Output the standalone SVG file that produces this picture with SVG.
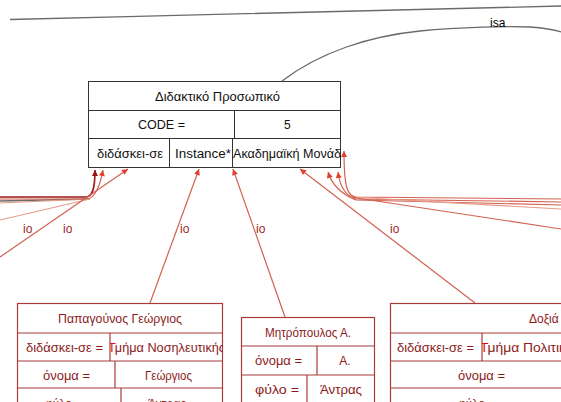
<svg xmlns="http://www.w3.org/2000/svg" width="561" height="402" viewBox="0 0 561 402">
<style>
.t{font-family:"Liberation Sans",Arial,sans-serif;font-size:12px;fill:#111}
.rt{font-family:"Liberation Sans",Arial,sans-serif;font-size:12px;fill:#8b1a1a}
.mb{fill:#fff;stroke:#333;stroke-width:1}
.ml{stroke:#333;stroke-width:1}
.rb{fill:#fff;stroke:#a83a3a;stroke-width:1.2}
.rl{stroke:#a83a3a;stroke-width:1.2}
.e{fill:none;stroke:#d2614f;stroke-width:1.2}
.ed{fill:none;stroke:#a01818;stroke-width:1.6}
.eg{fill:none;stroke:#6b6b6b;stroke-width:1.3}
.el{fill:none;stroke:#e69a88;stroke-width:1.1}
.io{font-family:"Liberation Sans",Arial,sans-serif;font-size:12px;fill:#a02828}
.isa{font-family:"Liberation Sans",Arial,sans-serif;font-size:12px;fill:#000}
</style>
<defs>
<marker id="ar" viewBox="0 0 10 10" refX="10" refY="5" markerWidth="7" markerHeight="6" orient="auto" markerUnits="userSpaceOnUse"><path d="M0,0 L10,5 L0,10 z" fill="#e0402a"/></marker>
<marker id="ard" viewBox="0 0 10 10" refX="10" refY="5" markerWidth="7" markerHeight="6" orient="auto" markerUnits="userSpaceOnUse"><path d="M0,0 L10,5 L0,10 z" fill="#a01010"/></marker>
<clipPath id="c1"><rect x="233" y="138" width="108" height="30"/></clipPath>
<clipPath id="c2"><rect x="110" y="333" width="113" height="28"/></clipPath>
<clipPath id="c3"><rect x="482" y="333" width="79" height="28"/></clipPath>
</defs>

<g id="connectors">
  <path class="eg" d="M10,19.5 C200,15 400,9 561,6"/>
  <path class="eg" d="M282,81 C320,52 370,36 420,31 C460,27 510,26 530,27 C545,28 555,30 561,32"/>
  <text class="isa" x="490" y="27">isa</text>

  <path class="eg" d="M0,201 L90,199"/>
  <path class="el" d="M0,203 L90,199"/>
  <path class="ed" d="M0,197 L86,197 C92,197 95,190 95,170" marker-end="url(#ard)"/>
  <path class="e" d="M0,199 L88,199 C95,197 100,186 103,170" marker-end="url(#ar)"/>
  <path class="el" d="M0,220 L90,199"/>
  <path class="e" d="M0,257 L128,169" marker-end="url(#ar)"/>

  <path class="e" d="M150,303 L199,169" marker-end="url(#ar)"/>
  <path class="e" d="M285,317 L233,169" marker-end="url(#ar)"/>
  <path class="e" d="M475,303 L300,169" marker-end="url(#ar)"/>

  <path class="e" d="M561,199 L356,197 C348,196 344,190 344,151" marker-end="url(#ar)"/>
  <path class="e" d="M561,202 L356,199 C346,196 340,188 338,172" marker-end="url(#ar)"/>
  <path class="e" d="M561,205 L356,200 C341,194 332,185 328,172" marker-end="url(#ar)"/>
  <path class="el" d="M561,209 L350,197"/>
  <path class="e" d="M561,229 L350,197"/>

  <text class="io" x="23" y="233">io</text>
  <text class="io" x="63" y="233">io</text>
  <text class="io" x="180" y="233">io</text>
  <text class="io" x="256" y="233">io</text>
  <text class="io" x="390" y="233">io</text>
</g>

<g id="n-didaktiko">
  <rect class="mb" x="88.5" y="81.5" width="252" height="86"/>
  <line class="ml" x1="88" y1="110.5" x2="341" y2="110.5"/>
  <line class="ml" x1="88" y1="138.5" x2="341" y2="138.5"/>
  <line class="ml" x1="234.5" y1="110.5" x2="234.5" y2="138.5"/>
  <line class="ml" x1="169.5" y1="138.5" x2="169.5" y2="168"/>
  <line class="ml" x1="232.5" y1="138.5" x2="232.5" y2="168"/>
  <text class="t" x="155" y="101" textLength="125" lengthAdjust="spacingAndGlyphs">Διδακτικό Προσωπικό</text>
  <text class="t" x="138" y="129" textLength="47" lengthAdjust="spacingAndGlyphs">CODE =</text>
  <text class="t" x="284" y="129">5</text>
  <text class="t" x="97" y="158" textLength="66" lengthAdjust="spacingAndGlyphs">διδάσκει-σε</text>
  <text class="t" x="175" y="158" textLength="56" lengthAdjust="spacingAndGlyphs">Instance*</text>
  <text class="t" x="233" y="158" clip-path="url(#c1)" textLength="108" lengthAdjust="spacingAndGlyphs">Ακαδημαϊκή Μονάδ</text>
</g>

<g id="n-papagounos">
  <rect class="rb" x="17.5" y="303.5" width="205" height="110"/>
  <line class="rl" x1="17" y1="333" x2="223" y2="333"/>
  <line class="rl" x1="17" y1="361" x2="223" y2="361"/>
  <line class="rl" x1="17" y1="388" x2="223" y2="388"/>
  <line class="rl" x1="110" y1="333" x2="110" y2="361"/>
  <line class="rl" x1="115" y1="361" x2="115" y2="388"/>
  <line class="rl" x1="121" y1="388" x2="121" y2="402"/>
  <text class="rt" x="120" y="323" text-anchor="middle" textLength="124" lengthAdjust="spacingAndGlyphs">Παπαγούνος Γεώργιος</text>
  <text class="rt" x="26" y="352" textLength="77" lengthAdjust="spacingAndGlyphs">διδάσκει-σε =</text>
  <text class="rt" x="108" y="352" clip-path="url(#c2)" textLength="117" lengthAdjust="spacingAndGlyphs"><tspan fill="#e01010">Τ</tspan>μήμα Νοσηλευτικής</text>
  <text class="rt" x="43" y="380" textLength="47" lengthAdjust="spacingAndGlyphs">όνομα =</text>
  <text class="rt" x="145" y="380" textLength="47" lengthAdjust="spacingAndGlyphs">Γεώργιος</text>
  <text class="rt" x="45" y="408">φύλο =</text>
  <text class="rt" x="148" y="408">Άντρας</text>
</g>

<g id="n-mitropoulos">
  <rect class="rb" x="241.5" y="317.5" width="133" height="100"/>
  <line class="rl" x1="241" y1="346" x2="375" y2="346"/>
  <line class="rl" x1="241" y1="375" x2="375" y2="375"/>
  <line class="rl" x1="317" y1="346" x2="317" y2="375"/>
  <line class="rl" x1="307" y1="375" x2="307" y2="402"/>
  <text class="rt" x="308" y="337" text-anchor="middle" textLength="86" lengthAdjust="spacingAndGlyphs">Μητρόπουλος Α.</text>
  <text class="rt" x="255" y="365" textLength="47" lengthAdjust="spacingAndGlyphs">όνομα =</text>
  <text class="rt" x="345" y="365" text-anchor="middle">Α.</text>
  <text class="rt" x="255" y="394" textLength="44" lengthAdjust="spacingAndGlyphs">φύλο =</text>
  <text class="rt" x="320" y="394" textLength="42" lengthAdjust="spacingAndGlyphs">Άντρας</text>
</g>

<g id="n-doxiadis">
  <rect class="rb" x="390.5" y="303.5" width="190" height="110"/>
  <line class="rl" x1="390" y1="333" x2="561" y2="333"/>
  <line class="rl" x1="390" y1="361" x2="561" y2="361"/>
  <line class="rl" x1="390" y1="388" x2="561" y2="388"/>
  <line class="rl" x1="482" y1="333" x2="482" y2="361"/>
  <text class="rt" x="529" y="323">Δοξιά</text>
  <text class="rt" x="397" y="352" textLength="77" lengthAdjust="spacingAndGlyphs">διδάσκει-σε =</text>
  <text class="rt" x="480" y="352" clip-path="url(#c3)" textLength="86" lengthAdjust="spacingAndGlyphs"><tspan fill="#e01010">Τ</tspan>μήμα Πολιτικ</text>
  <text class="rt" x="458" y="380" textLength="47" lengthAdjust="spacingAndGlyphs">όνομα =</text>
  <text class="rt" x="458" y="408">φύλο =</text>
</g>
</svg>
